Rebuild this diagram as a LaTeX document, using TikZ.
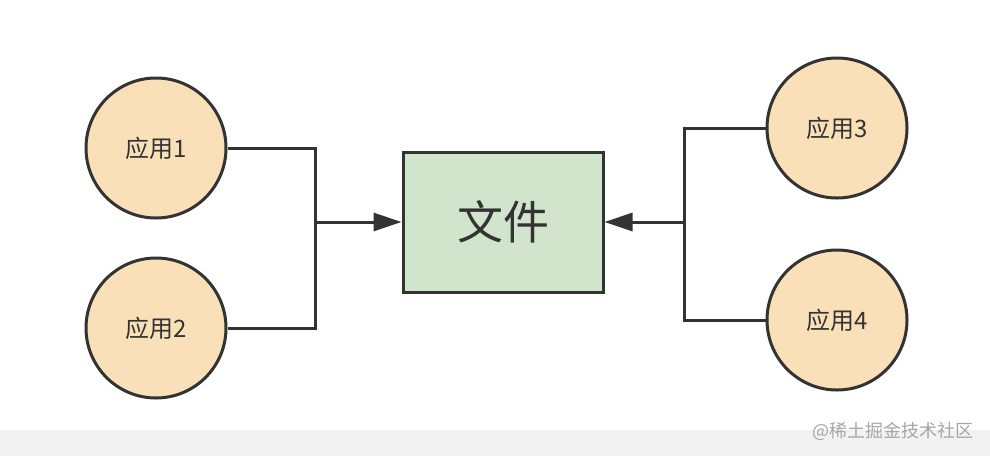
\documentclass[tikz,border=0pt]{standalone}
\usepackage{fontspec}
\newfontfamily\cjk{Noto Sans CJK SC}
\usetikzlibrary{arrows.meta}
\definecolor{appfill}{HTML}{F9E0B8}
\definecolor{filefill}{HTML}{D0E5CC}
\definecolor{linec}{HTML}{333333}
\definecolor{bandc}{HTML}{F2F2F2}
\definecolor{wmc}{HTML}{A6A6A6}
\tikzset{
  app/.style={circle, draw=linec, line width=3pt, fill=appfill, minimum size=140pt, inner sep=0pt, font=\cjk\fontsize{24}{24}\selectfont, text=linec},
  filebox/.style={rectangle, draw=linec, line width=3pt, fill=filefill, minimum width=200pt, minimum height=140pt, inner sep=0pt, font=\cjk\fontsize{46}{46}\selectfont, text=linec},
  conn/.style={draw=linec, line width=3pt},
  arr/.style={conn, -{Triangle[length=28pt,width=18pt]}}
}
\begin{document}
\begin{tikzpicture}[x=1pt,y=-1pt]
\useasboundingbox (0,0) rectangle (990,456);
\fill[white] (0,0) rectangle (990,456);
\fill[bandc] (0,430) rectangle (990,456);
\node[font=\cjk\fontsize{18}{18}\selectfont, text=wmc, anchor=east] (wm) at (977,431) {@稀土掘金技术社区};
\node[app] (c1) at (156,148) {应用1};
\node[app] (c2) at (156,328) {应用2};
\node[app] (c3) at (837,128) {应用3};
\node[app] (c4) at (837,320) {应用4};
\node[filebox] (f) at (503,222) {文件};
\coordinate (jl) at (315,222);
\coordinate (jr) at (684,222);
\draw[conn] (c1.east) -| (jl);
\draw[conn] (c2.east) -| (jl);
\draw[arr] (jl) -- (f.west);
\draw[conn] (c3.west) -| (jr);
\draw[conn] (c4.west) -| (jr);
\draw[arr] (jr) -- (f.east);
\end{tikzpicture}
\end{document}
